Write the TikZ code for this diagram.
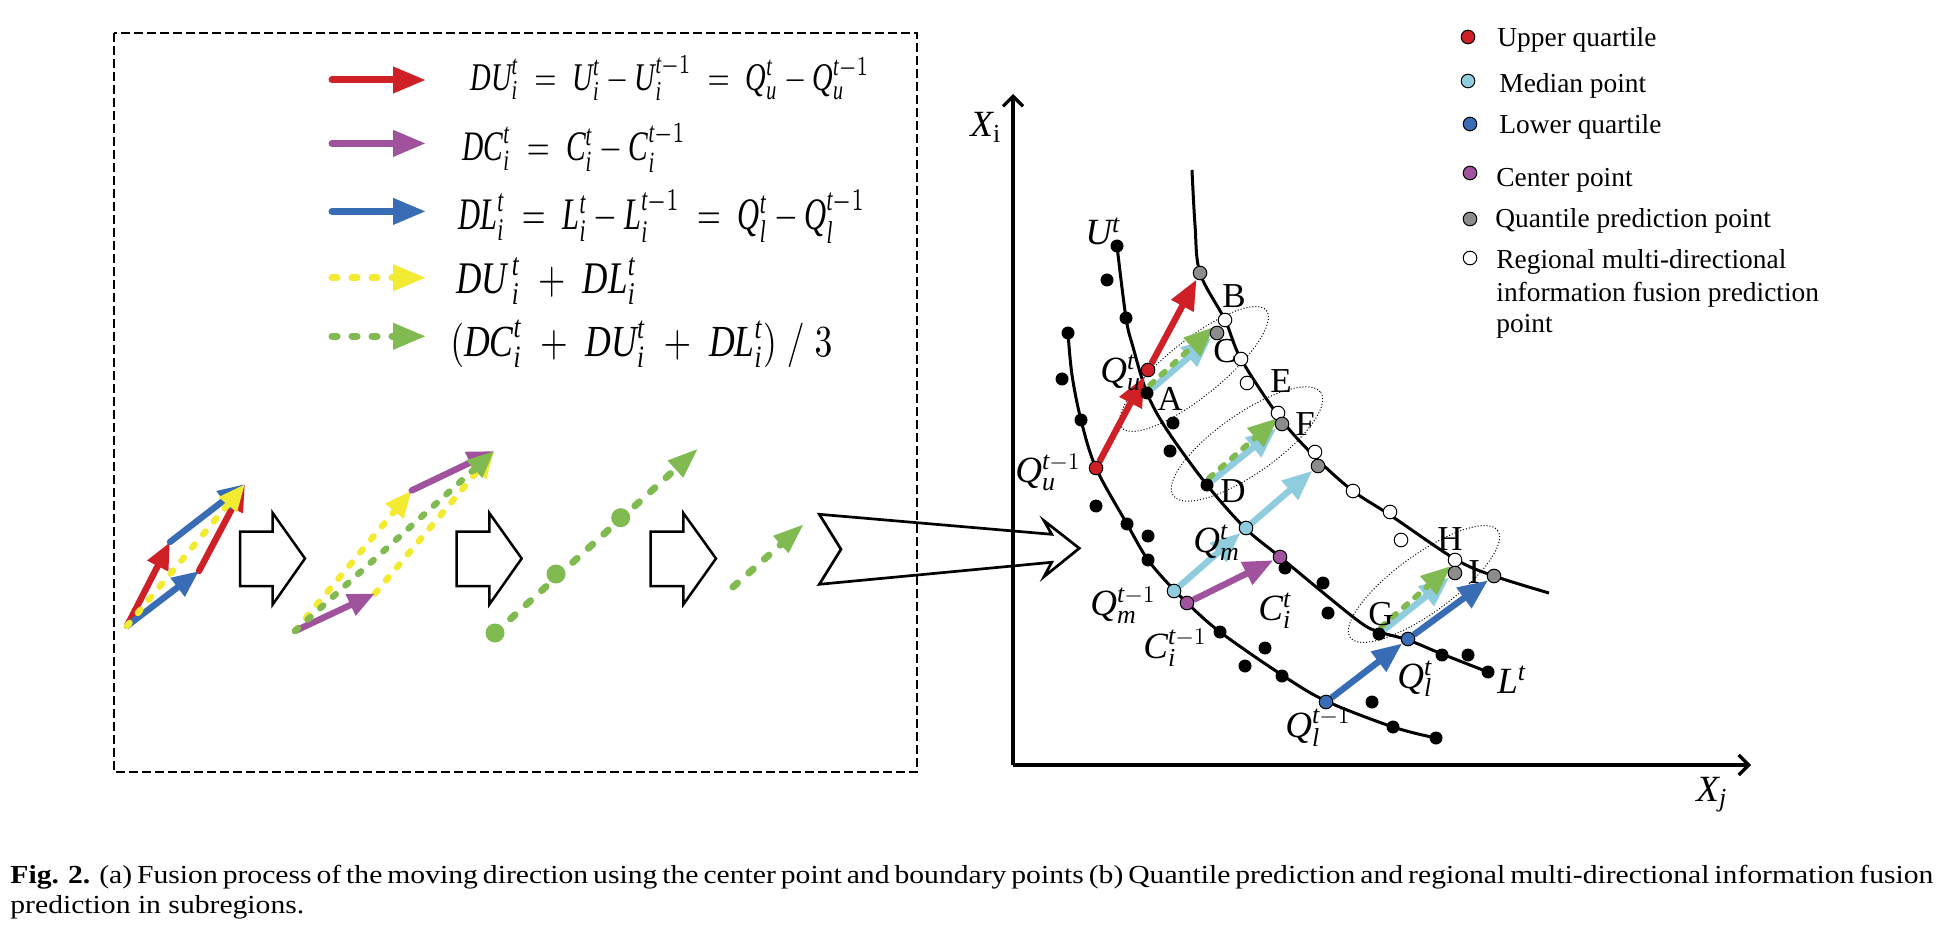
\documentclass[tikz,border=0pt]{standalone}
\usepackage{fontspec}
\usepackage{graphicx}
\setmainfont{Liberation Serif}
\newfontfamily\capfont[FakeStretch=1.14]{Liberation Serif}
\usetikzlibrary{arrows.meta}
\pgfdeclarelayer{bg}
\pgfdeclarelayer{paper}
\pgfsetlayers{paper,bg,main}
\definecolor{cred}{RGB}{207,32,40}
\definecolor{cpur}{RGB}{160,82,156}
\definecolor{cblue}{RGB}{56,108,180}
\definecolor{clblue}{RGB}{142,204,222}
\definecolor{cyel}{RGB}{243,234,50}
\definecolor{cgreen}{RGB}{128,186,80}
\definecolor{cgray}{RGB}{140,140,140}
\newcommand\myv[1]{\mathit{#1}}
\begin{document}
\begin{tikzpicture}[x=0.5pt,y=-0.5pt,
  bdot/.style={circle,fill=black,inner sep=0pt,minimum size=6.5pt},
  cdot/.style={circle,draw=black,line width=0.5pt,fill=#1,inner sep=0pt,minimum size=6.8pt},
  gdot/.style={circle,fill=cgreen,inner sep=0pt,minimum size=9.5pt},
  crv/.style={line width=1.5pt},
  garr/.style={line width=3.2pt,-{Triangle[length=15pt,width=12pt]}},
  gdash/.style={garr,line width=2.8pt,line cap=round,dash pattern=on 2.5pt off 5pt},
  legarr/.style={line width=3.5pt,line cap=round,-{Triangle[length=16.5pt,width=12.5pt]}},
  legdash/.style={legarr,dash pattern=on 2.5pt off 7.5pt},
  parr/.style={line width=3.2pt,line cap=round,-{Triangle[length=13.5pt,width=11pt]}},
  pdash/.style={parr,dash pattern=on 2pt off 6.5pt},
  ldash/.style={line width=3.5pt,line cap=round,dash pattern=on 3pt off 7.5pt,-{Triangle[length=15.5pt,width=10.5pt]}},
  hollow/.style={draw=black,line width=1.25pt,line join=miter},
  lab/.style={inner sep=0pt,anchor=base west,font=\fontsize{18.5}{20}\selectfont},
  ltr/.style={inner sep=0pt,anchor=base west,font=\fontsize{17.5}{20}\selectfont},
  legtxt/.style={inner sep=0pt,anchor=base west,font=\fontsize{13.7}{16}\selectfont},
  eq/.style={inner sep=0pt,anchor=west},
  ell/.style={densely dotted,line width=0.5pt},
  axis/.style={line width=1.65pt,-{Straight Barb[length=5pt,width=10pt]}},
]
\begin{pgfonlayer}{paper}
\fill[white] (0,0) rectangle (1950,936);
\end{pgfonlayer}
\useasboundingbox (0,0) rectangle (1950,936);

% ---------------- left panel ----------------
\draw[line width=0.6pt,dash pattern=on 4.5pt off 2pt] (114,33) rectangle (917,772);

% legend arrows
\coordinate (la1s) at (332,80);    \coordinate (la1e) at (426,80);
\coordinate (la2s) at (332,143.4); \coordinate (la2e) at (426,143.4);
\coordinate (la3s) at (332,211.4); \coordinate (la3e) at (426,211.4);
\coordinate (la4s) at (332,277.8); \coordinate (la4e) at (426,277.8);
\coordinate (la5s) at (332,336.3); \coordinate (la5e) at (426,336.3);
\draw[legarr,cred] (la1s) -- (la1e);
\draw[legarr,cpur] (la2s) -- (la2e);
\draw[legarr,cblue] (la3s) -- (la3e);
\draw[legdash,cyel] (la4s) -- (la4e);
\draw[legdash,cgreen] (la5s) -- (la5e);

% equations
\node[eq] (eq1) at (470,78.3) {\resizebox*{199.5pt}{22.7pt}{$\myv{DU}^{\myv{t}}_{\myv{i}}\;=\;\myv{U}^{\myv{t}}_{\myv{i}}-\myv{U}^{\myv{t}-1}_{\myv{i}}\;=\;\myv{Q}^{\myv{t}}_{\myv{u}}-\myv{Q}^{\myv{t}-1}_{\myv{u}}$}};
\node[eq] (eq2) at (462,148) {\resizebox*{111.7pt}{24.3pt}{$\myv{DC}^{\myv{t}}_{\myv{i}}\;=\;\myv{C}^{\myv{t}}_{\myv{i}}-\myv{C}^{\myv{t}-1}_{\myv{i}}$}};
\node[eq] (eq3) at (458,216.7) {\resizebox*{203.5pt}{26.6pt}{$\myv{DL}^{\myv{t}}_{\myv{i}}\;=\;\myv{L}^{\myv{t}}_{\myv{i}}-\myv{L}^{\myv{t}-1}_{\myv{i}}\;=\;\myv{Q}^{\myv{t}}_{\myv{l}}-\myv{Q}^{\myv{t}-1}_{\myv{l}}$}};
\node[eq] (eq4) at (456,281) {\resizebox*{90pt}{23.7pt}{$\myv{DU}^{\,\myv{t}}_{\,\myv{i}}\;+\;\myv{DL}^{\myv{t}}_{\myv{i}}$}};
\node[eq] (eq5) at (450,344) {\resizebox*{191pt}{23.5pt}{$(\myv{DC}^{\myv{t}}_{\myv{i}}\;+\;\myv{DU}^{\myv{t}}_{\myv{i}}\;+\;\myv{DL}^{\myv{t}}_{\myv{i}})\;/\;3$}};

% group 1
\coordinate (o1) at (127,626); \coordinate (p1) at (170,542);
\coordinate (p2) at (199,571); \coordinate (p3) at (245,484);
\draw[parr,cred] (o1) -- (p1);
\draw[parr,cred] (p2) -- (p3);
\draw[parr,cblue] (o1) -- (p2);
\draw[parr,cblue] (p1) -- (p3);
\draw[pdash,cyel] (o1) -- (p3);

% hollow arrows
\draw[hollow] (240,531.5) -- (272.7,531.5) -- (272.7,513) -- (305,558.5) -- (272.7,604.5) -- (272.7,586) -- (240,586) -- cycle;
\draw[hollow] (456.7,531.5) -- (489.3,531.5) -- (489.3,513) -- (521.7,558.5) -- (489.3,604.5) -- (489.3,586) -- (456.7,586) -- cycle;
\draw[hollow] (650.7,531.5) -- (683.3,531.5) -- (683.3,513) -- (716,558.5) -- (683.3,604.5) -- (683.3,586) -- (650.7,586) -- cycle;

% group 2
\coordinate (o2) at (295,631); \coordinate (q1) at (375,593.5);
\coordinate (q2) at (411.7,490.5); \coordinate (q3) at (494.3,451);
\draw[pdash,cyel] (o2) -- (q2);
\draw[pdash,cyel] (q1) -- (q3);
\draw[parr,cpur] (o2) -- (q1);
\draw[parr,cpur] (q2) -- (q3);
\draw[pdash,cgreen] (o2) -- (q3);

% group 3
\coordinate (t3) at (698.3,448.3);
\node[gdot] (d1) at (495,633) {};
\node[gdot] (d2) at (556,574) {};
\node[gdot] (d3) at (620.7,517.7) {};
\draw[ldash,cgreen] (d1.center) -- (t3);

% group 4
\coordinate (f0) at (733,587); \coordinate (f1) at (804,524);
\draw[ldash,cgreen] (f0) -- (f1);

% big arrow
\draw[hollow,line width=1.35pt] (819.3,514.3) -- (1051.7,534.3) -- (1044,520.7) -- (1079.3,548.3) -- (1044,576.7) -- (1051.7,562.3) -- (819.3,584.3) -- (841,549.3) -- cycle;

% ---------------- right panel ----------------
\coordinate (orig) at (1013,765);
\coordinate (ytop) at (1013,94);
\coordinate (xend) at (1751,765);
\draw[axis] (orig) -- (ytop);
\draw[axis] (orig) -- (xend);
\node[lab] (lXi) at (970,137) {$\myv{X}_{\mathrm{i}}$};
\node[lab] (lXj) at (1696,801) {$\myv{X}_{\myv{j}}$};

% black dots on curves
\node[bdot] (k1) at (1068,333) {};
\node[bdot] (k2) at (1081,420) {};
\node[bdot] (k3) at (1127,524) {};
\node[bdot] (k4) at (1148,560) {};
\node[bdot] (k5) at (1220,632) {};
\node[bdot] (k6) at (1282,676) {};
\node[bdot] (k7) at (1393,727) {};
\node[bdot] (k8) at (1436,738) {};
\node[bdot] (m1) at (1117,246) {};
\node[bdot] (m2) at (1126,318) {};
\node[bdot] (nA) at (1147,393) {};
\node[bdot] (nD) at (1207,485) {};
\node[bdot] (m5) at (1285,568) {};
\node[bdot] (nG) at (1379,634) {};
\node[bdot] (m7) at (1442,655) {};
\node[bdot] (m8) at (1488,672) {};
% scattered black dots
\node[bdot] (s1) at (1062,379) {};
\node[bdot] (s2) at (1096,506) {};
\node[bdot] (s3) at (1148,536) {};
\node[bdot] (s4) at (1245,666) {};
\node[bdot] (s5) at (1265,648) {};
\node[bdot] (s6) at (1372,702) {};
\node[bdot] (s7) at (1107,280) {};
\node[bdot] (s8) at (1173,423) {};
\node[bdot] (s9) at (1170,451) {};
\node[bdot] (s10) at (1323,583) {};
\node[bdot] (s11) at (1328,613) {};
\node[bdot] (s12) at (1468,655) {};
% white dots
\node[cdot=white] (nB) at (1225,320) {};
\node[cdot=white] (w2) at (1241,359) {};
\node[cdot=white] (w3) at (1247,383) {};
\node[cdot=white] (nE) at (1278,413) {};
\node[cdot=white] (w5) at (1315,452) {};
\node[cdot=white] (w6) at (1353,491) {};
\node[cdot=white] (w7) at (1390,512) {};
\node[cdot=white] (w8) at (1401,540) {};
\node[cdot=white] (nH) at (1455,560) {};
% gray dots
\node[cdot=cgray] (g1) at (1200,273) {};
\node[cdot=cgray] (nC) at (1217,333) {};
\node[cdot=cgray] (nF) at (1282,424) {};
\node[cdot=cgray] (g4) at (1318,466) {};
\node[cdot=cgray] (g5) at (1455,573) {};
\node[cdot=cgray] (nI) at (1494,576) {};
% coloured dots
\node[cdot=cred] (qu0) at (1096,468) {};
\node[cdot=cred] (qu1) at (1148,370) {};
\node[cdot=clblue] (qm0) at (1174,591) {};
\node[cdot=clblue] (qm1) at (1246,528) {};
\node[cdot=cpur] (ci0) at (1187,603) {};
\node[cdot=cpur] (ci1) at (1280,557) {};
\node[cdot=cblue] (ql0) at (1326,702) {};
\node[cdot=cblue] (ql1) at (1408,639) {};

\begin{pgfonlayer}{bg}
\draw[crv] plot[smooth,tension=0.55] coordinates {(1068,333) (1072,375) (1081,420) (1096,468) (1127,524) (1148,560) (1174,590) (1187,603) (1220,632) (1282,675) (1326,701) (1393,727) (1436,738)};
\draw[crv] plot[smooth,tension=0.55] coordinates {(1117,246) (1126,318) (1133,347) (1147,393) (1167,430) (1207,485) (1245,528) (1280,557) (1357,620) (1380,632) (1408,640) (1442,654) (1488,672)};
\draw[crv] plot[smooth,tension=0.55] coordinates {(1192,170) (1195,225) (1200,273) (1225,320) (1241,359) (1280,418) (1316,458) (1353,491) (1390,515) (1455,559) (1494,576) (1549,593)};
\draw[ell,rotate around={39:(1194,369)}] (1194,369) ellipse [x radius=93,y radius=28];
\draw[ell,rotate around={35:(1247,444)}] (1247,444) ellipse [x radius=90,y radius=30];
\draw[ell,rotate around={36:(1424,584)}] (1424,584) ellipse [x radius=91,y radius=29];
% arrows
\draw[garr,cred] (qu0) -- (qu1);
\draw[garr,cred] (qu1) -- (g1);
\draw[garr,clblue] (qm0) -- (qm1);
\draw[garr,clblue] (qm1) -- (g4);
\draw[garr,clblue] (nA) -- (nC);
\draw[garr,clblue] (nD) -- (nF);
\draw[garr,clblue] (nG) -- (g5);
\coordinate (ga0) at (1150,385); \coordinate (ga1) at (1214,327);
\coordinate (gd0) at (1209,478); \coordinate (gd1) at (1278,418);
\coordinate (gg0) at (1381,627); \coordinate (gg1) at (1451,566);
\draw[gdash,cgreen] (ga0) -- (ga1);
\draw[gdash,cgreen] (gd0) -- (gd1);
\draw[gdash,cgreen] (gg0) -- (gg1);
\draw[garr,cpur] (ci0) -- (ci1);
\draw[garr,cblue] (ql0) -- (ql1);
\draw[garr,cblue] (ql1) -- (nI);
\end{pgfonlayer}

% labels
\node[lab] (lUt) at (1085,245) {$\myv{U}^{\myv{t}}$};
\node[lab] (lQut) at (1100,382) {$\myv{Q}^{\myv{t}}_{\myv{u}}$};
\node[lab] (lQu0) at (1015,482) {$\myv{Q}^{\myv{t}-1}_{\myv{u}}$};
\node[lab] (lQmt) at (1193,552) {$\myv{Q}^{\myv{t}}_{\myv{m}}$};
\node[lab] (lQm0) at (1090,615) {$\myv{Q}^{\myv{t}-1}_{\myv{m}}$};
\node[lab] (lCi0) at (1143,658) {$\myv{C}^{\myv{t}-1}_{\myv{i}}$};
\node[lab] (lCit) at (1258,620) {$\myv{C}^{\myv{t}}_{\myv{i}}$};
\node[lab] (lQlt) at (1397,688) {$\myv{Q}^{\myv{t}}_{\myv{l}}$};
\node[lab] (lQl0) at (1285,737) {$\myv{Q}^{\myv{t}-1}_{\myv{l}}$};
\node[lab] (lLt) at (1497,693) {$\myv{L}^{\myv{t}}$};
\node[ltr] (tA) at (1157,410) {A};
\node[ltr] (tB) at (1222,308) {B};
\node[ltr] (tC) at (1213,363) {C};
\node[ltr] (tD) at (1220,502) {D};
\node[ltr] (tE) at (1270,393) {E};
\node[ltr] (tF) at (1295,435) {F};
\node[ltr] (tG) at (1368,625) {G};
\node[ltr] (tH) at (1437,550) {H};
\node[ltr] (tI) at (1468,583) {I};

% legend
\node[cdot=cred] (lg1) at (1468,37) {};
\node[cdot=clblue] (lg2) at (1468,81) {};
\node[cdot=cblue] (lg3) at (1470,124) {};
\node[cdot=cpur] (lg4) at (1470,173) {};
\node[cdot=cgray] (lg5) at (1470,219) {};
\node[cdot=white] (lg6) at (1470,258) {};
\node[legtxt] (lt1) at (1497,47) {Upper quartile};
\node[legtxt] (lt2) at (1499,93) {Median point};
\node[legtxt] (lt3) at (1499,134) {Lower quartile};
\node[legtxt] (lt4) at (1496,187) {Center point};
\node[legtxt] (lt5) at (1495,228) {Quantile prediction point};
\node[legtxt] (lt6) at (1496,269) {Regional multi-directional};
\node[legtxt] (lt7) at (1496,302) {information fusion prediction};
\node[legtxt] (lt8) at (1496,333) {point};

% caption
\node[inner sep=0pt,anchor=base west] (cap1) at (10,883) {\capfont\fontsize{13}{15}\selectfont\makebox[955pt][s]{\textbf{Fig. 2.} (a) Fusion process of the moving direction using the center point and boundary points (b) Quantile prediction and regional multi-directional information fusion}};
\node[inner sep=0pt,anchor=base west] (cap2) at (10,913) {\capfont\fontsize{13}{15}\selectfont prediction in subregions.};
\end{tikzpicture}
\end{document}
